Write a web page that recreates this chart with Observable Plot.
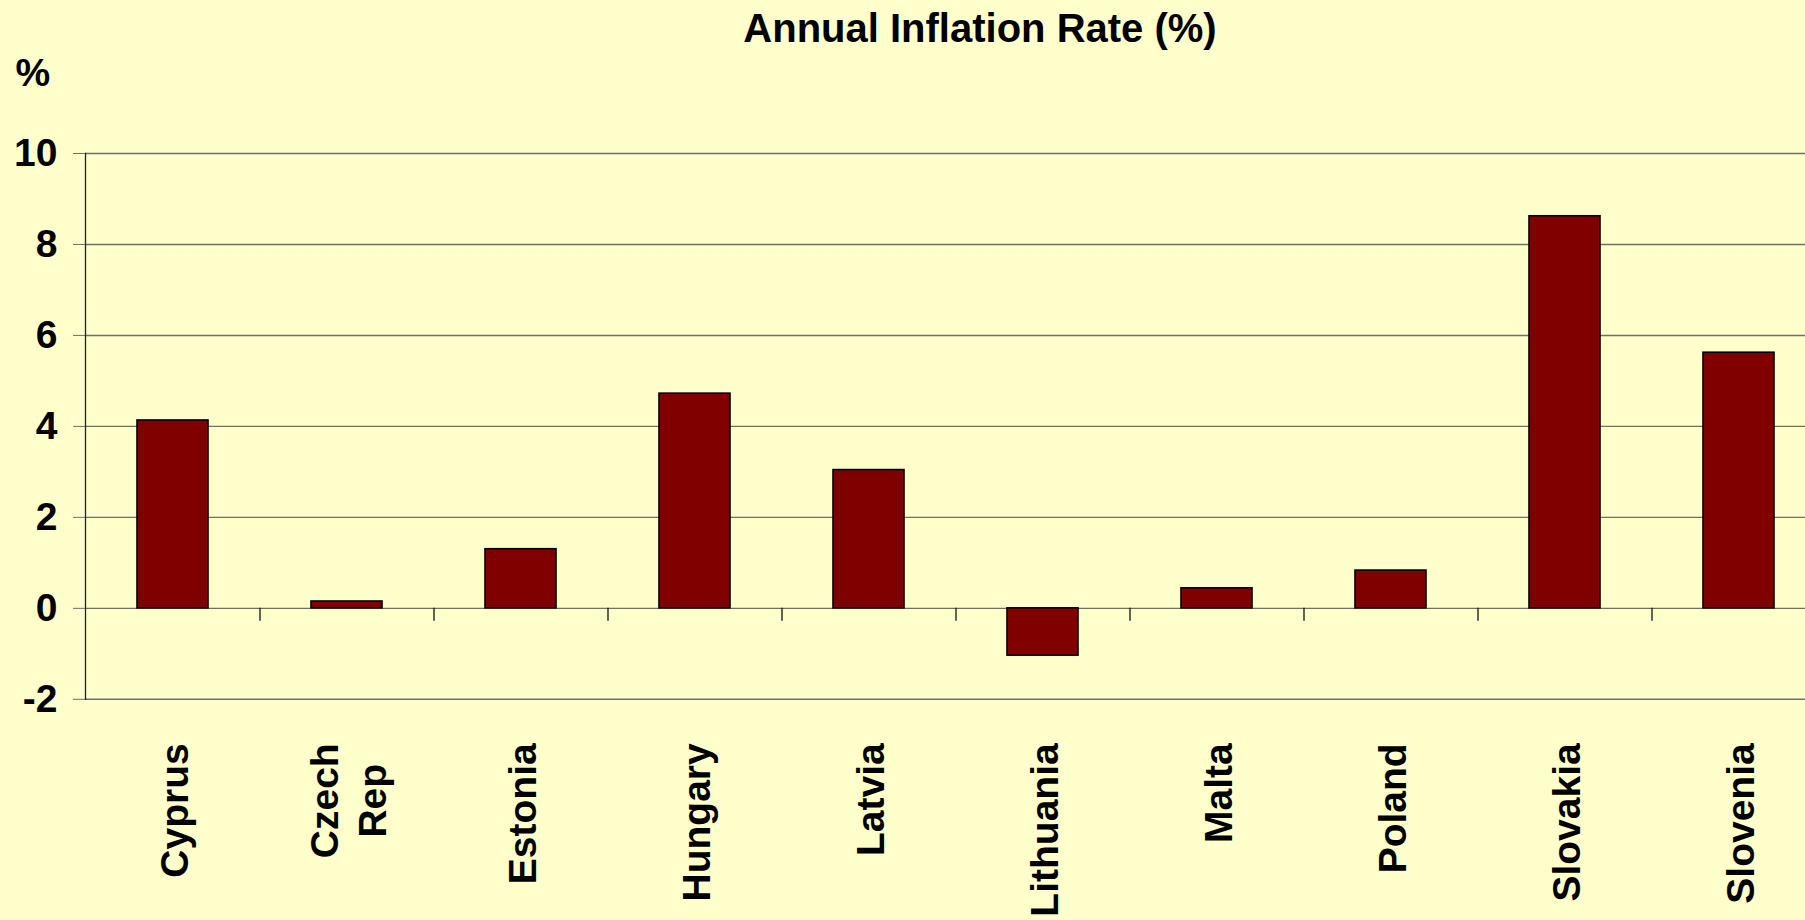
<!DOCTYPE html>
<html>
<head>
<meta charset="utf-8">
<script src="https://cdn.jsdelivr.net/npm/d3@7"></script>
<script src="https://cdn.jsdelivr.net/npm/@observablehq/plot@0.6"></script>
<style>
  html, body { margin: 0; padding: 0; background: #FFFFCC; overflow: hidden; }
  #title {
    width: 1805px; height: 45.5px; line-height: 36px; box-sizing: border-box;
    padding-top: 9.5px; padding-left: 155px; text-align: center; white-space: nowrap;
    font-family: "Liberation Sans", Arial, sans-serif; font-weight: bold; font-size: 40px; color: #000;
  }
  #chart svg { display: block; }
</style>
</head>
<body>
<div id="title">Annual Inflation Rate (%)</div>
<div id="chart"></div>
<script>
const countries = ["Cyprus", "Czech\nRep", "Estonia", "Hungary", "Latvia", "Lithuania", "Malta", "Poland", "Slovakia", "Slovenia"];
const inflation = [4.13, 0.15, 1.30, 4.72, 3.04, -1.04, 0.44, 0.83, 8.62, 5.62];
const yTicks = [-2, 0, 2, 4, 6, 8, 10];
const yUnit = "%";

const data = countries.map((c, i) => ({country: c, value: inflation[i]}));

const W = 1805, H = 874.5;
const xStart = 85, xEnd = 1825;
const step = (xEnd - xStart) / countries.length;
const gridColor = "#707066";

const chart = Plot.plot({
  width: W,
  height: H,
  marginLeft: xStart,
  marginRight: 0,
  marginTop: 107,
  marginBottom: 221.7,
  style: {
    background: "#FFFFCC",
    fontFamily: "'Liberation Sans', Arial, sans-serif",
    fontSize: "39px",
    fontWeight: "bold",
    color: "#000",
    overflow: "hidden"
  },
  x: {domain: countries, range: [xStart, xEnd], paddingInner: 0.594, paddingOuter: 0.297},
  y: {domain: [-2, 10], ticks: yTicks},
  marks: [
    Plot.ruleY(yTicks, {stroke: gridColor, strokeWidth: 1.4}),
    Plot.barY(data, {x: "country", y: "value", fill: "#800000", stroke: "#000", strokeWidth: 1.6}),
    Plot.frame({anchor: "left", stroke: "#222", strokeWidth: 1.3}),
    Plot.ruleX(countries.slice(1), {x: d => d, y1: 0, y2: 0, insetBottom: -13, dx: -step / 2, stroke: "#111", strokeWidth: 1.3}),
    Plot.axisY({ticks: yTicks, tickSize: 12, tickPadding: 16, tickFormat: d => String(d), label: null, stroke: gridColor, fontSize: 39}),
    Plot.axisX({tickSize: 0, tickRotate: -90, tickPadding: 44, label: null, fontSize: 39, lineHeight: 1.23}),
    Plot.text([yUnit], {text: d => d, frameAnchor: "top-left", dx: -70, dy: -67.5, lineAnchor: "bottom", textAnchor: "start", fontSize: 39})
  ]
});

document.getElementById("chart").appendChild(chart);

// center the lines of multi-line tick labels relative to the longest line
chart.querySelectorAll('g[aria-label="x-axis tick label"] text').forEach(t => {
  const spans = Array.from(t.querySelectorAll("tspan"));
  if (spans.length > 1) {
    const lens = spans.map(s => s.getComputedTextLength());
    const max = Math.max(...lens);
    spans.forEach((s, i) => s.setAttribute("x", -(max - lens[i]) / 2));
  }
});
</script>
</body>
</html>
